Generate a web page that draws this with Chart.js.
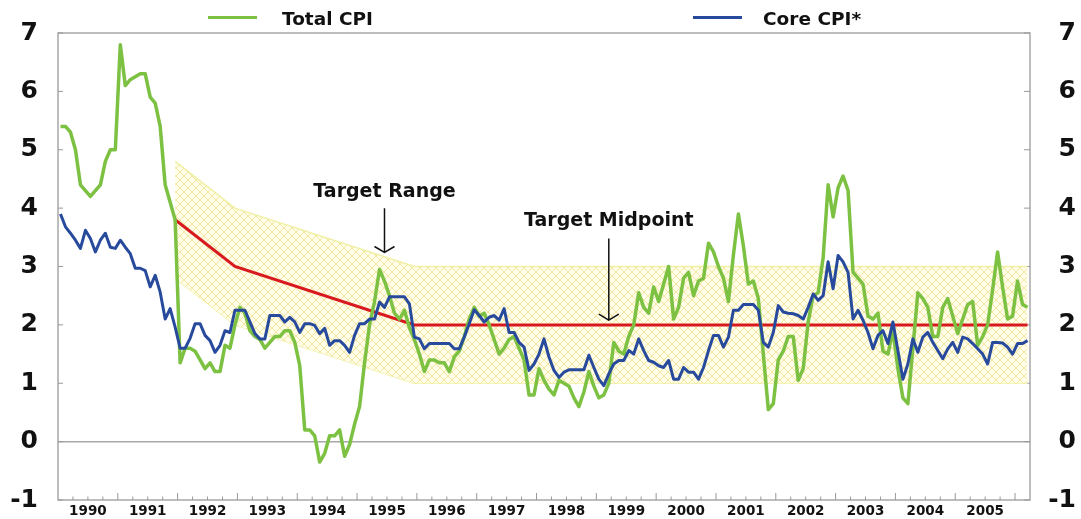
<!DOCTYPE html>
<html>
<head>
<meta charset="utf-8">
<script src="https://cdn.jsdelivr.net/npm/chart.js@4.4.1/dist/chart.umd.min.js"></script>
<style>
  html,body{margin:0;padding:0;background:#fff;}
  #wrap{position:relative;width:1081px;height:519px;}
  .lline{position:absolute;height:3px;width:49px;}
  .ltxt{position:absolute;font-family:"DejaVu Sans";font-weight:bold;font-size:18.5px;line-height:18.5px;color:#111;white-space:nowrap;}
</style>
</head>
<body>
<div id="wrap">
  <canvas id="c" width="1081" height="519"></canvas>
  <div class="lline" style="left:208px;top:16px;background:#7cc142;"></div>
  <div class="ltxt" style="left:282px;top:10px;">Total CPI</div>
  <div class="lline" style="left:693px;top:15.5px;background:#284a9c;"></div>
  <div class="ltxt" style="left:763px;top:10px;">Core CPI*</div>
</div>
<script>
// ---- DATA (monthly, 12-month % change, Jan 1990 – Mar 2006) ----
const startYear = 1990;
const totalCPI = [
  5.4,5.4,5.3,5.0,4.4,4.3,4.2,4.3,4.4,4.8,5.0,5.0,        // 1990
  6.8,6.1,6.2,6.25,6.3,6.3,5.9,5.8,5.4,4.4,4.1,3.8,       // 1991
  1.35,1.6,1.6,1.55,1.4,1.25,1.35,1.2,1.2,1.65,1.6,2.0,   // 1992
  2.3,2.2,1.9,1.8,1.75,1.6,1.7,1.8,1.8,1.9,1.9,1.7,       // 1993
  1.3,0.2,0.2,0.1,-0.35,-0.2,0.1,0.1,0.2,-0.25,-0.05,0.3, // 1994
  0.6,1.35,2.0,2.4,2.95,2.75,2.5,2.2,2.1,2.25,1.95,1.75,  // 1995
  1.5,1.2,1.4,1.4,1.35,1.35,1.2,1.45,1.55,1.8,2.1,2.3,    // 1996
  2.15,2.2,2.0,1.75,1.5,1.6,1.75,1.8,1.6,1.4,0.8,0.8,     // 1997
  1.25,1.05,0.9,0.8,1.05,1.0,0.95,0.75,0.6,0.85,1.2,0.95, // 1998
  0.75,0.8,1.0,1.7,1.55,1.5,1.8,2.0,2.55,2.3,2.2,2.65,    // 1999
  2.4,2.7,3.0,2.1,2.3,2.8,2.9,2.5,2.75,2.8,3.4,3.25,      // 2000
  3.0,2.8,2.4,3.2,3.9,3.35,2.7,2.75,2.45,1.5,0.55,0.65,   // 2001
  1.4,1.55,1.8,1.8,1.05,1.25,2.05,2.5,2.55,3.15,4.4,3.85, // 2002
  4.35,4.55,4.3,2.9,2.8,2.7,2.15,2.1,2.2,1.55,1.5,1.9,    // 2003
  1.25,0.75,0.65,1.6,2.55,2.45,2.3,1.8,1.8,2.3,2.45,2.15, // 2004
  1.85,2.1,2.35,2.4,1.65,1.8,2.0,2.6,3.25,2.65,2.1,2.15,  // 2005
  2.75,2.35,2.3                                           // 2006
];
const coreCPI = [
  3.9,3.68,3.57,3.45,3.31,3.62,3.48,3.25,3.45,3.57,3.33,3.31,  // 1990
  3.45,3.33,3.22,2.97,2.97,2.93,2.65,2.85,2.56,2.1,2.28,1.96,  // 1991
  1.6,1.6,1.77,2.02,2.02,1.82,1.73,1.53,1.65,1.9,1.87,2.25,    // 1992
  2.25,2.25,2.05,1.85,1.76,1.76,2.16,2.16,2.16,2.05,2.13,2.05, // 1993
  1.87,2.02,2.02,1.99,1.85,1.94,1.65,1.73,1.73,1.65,1.53,1.82, // 1994
  2.02,2.02,2.1,2.1,2.39,2.3,2.48,2.48,2.48,2.48,2.36,1.79,    // 1995
  1.76,1.59,1.68,1.68,1.68,1.68,1.68,1.59,1.59,1.79,2.02,2.26, // 1996
  2.16,2.05,2.13,2.16,2.08,2.28,1.87,1.87,1.7,1.62,1.22,1.33,  // 1997
  1.5,1.76,1.45,1.22,1.1,1.19,1.23,1.23,1.23,1.23,1.48,1.27,   // 1998
  1.07,0.96,1.16,1.33,1.39,1.39,1.56,1.5,1.76,1.56,1.39,1.36,  // 1999
  1.3,1.27,1.39,1.07,1.07,1.27,1.19,1.19,1.07,1.27,1.56,1.82,  // 2000
  1.82,1.62,1.79,2.25,2.25,2.35,2.35,2.35,2.25,1.7,1.62,1.87,  // 2001
  2.33,2.22,2.2,2.19,2.16,2.1,2.3,2.53,2.42,2.5,3.08,2.62,     // 2002
  3.19,3.08,2.9,2.1,2.25,2.08,1.87,1.59,1.82,1.9,1.68,2.05,    // 2003
  1.56,1.07,1.33,1.76,1.53,1.79,1.87,1.7,1.56,1.42,1.59,1.7,   // 2004
  1.53,1.79,1.76,1.68,1.59,1.5,1.33,1.7,1.7,1.69,1.62,1.5,     // 2005
  1.68,1.68,1.73                                               // 2006
];
// Target path (dates as "YYYY-MM")
const targetDates = ["1991-12","1992-12","1995-12","2006-03"];
const targetUpper = [4.8, 4.0, 3.0, 3.0];
const targetMid   = [3.8, 3.0, 2.0, 2.0];
const targetLower = [2.8, 2.0, 1.0, 1.0];
const yTicks = [-1,0,1,2,3,4,5,6,7];
const axisStart = 1990, axisEnd = 2006.25;
// annotation anchors in data units
const annotations = [
  {text:"Target Range",    date:"1995-06", textY:4.28, arrowFrom:4.0,  arrowTo:3.24},
  {text:"Target Midpoint", date:"1999-03", textY:3.77, arrowFrom:3.48, arrowTo:2.08}
];

// ---- helpers ----
const monthX = i => startYear + (i + 0.5) / 12;
const dateX = s => { const [y,m] = s.split('-').map(Number); return y + (m - 0.5) / 12; };
const toXY = arr => arr.map((v,i)=>({x:monthX(i), y:v}));
const pathXY = vals => vals.map((v,i)=>({x:dateX(targetDates[i]), y:v}));

const ctx0 = document.getElementById('c').getContext('2d');
function hatchPattern(){
  const s = 8, c = document.createElement('canvas');
  c.width = s; c.height = s;
  const g = c.getContext('2d');
  g.fillStyle = '#fffce8'; g.fillRect(0,0,s,s);
  g.strokeStyle = '#f2e7a2'; g.lineWidth = 1;
  g.beginPath();
  g.moveTo(-1,-1); g.lineTo(s+1,s+1);
  g.moveTo(s+1,-1); g.lineTo(-1,s+1);
  g.stroke();
  return ctx0.createPattern(c,'repeat');
}

const FONT = "DejaVu Sans";
const decor = {
  id:'decor',
  beforeDatasetsDraw(chart){
    const {ctx, chartArea:a, scales:{x,y}} = chart;
    ctx.save();
    ctx.strokeStyle = '#a8a8a8';
    ctx.lineWidth = 1.5;
    ctx.strokeRect(a.left, a.top, a.right - a.left, a.bottom - a.top);
    const y0 = y.getPixelForValue(0);
    ctx.beginPath(); ctx.moveTo(a.left, y0); ctx.lineTo(a.right, y0); ctx.stroke();
    ctx.lineWidth = 1;
    ctx.strokeStyle = '#999';
    ctx.beginPath();
    x.ticks.forEach(t=>{
      const px = x.getPixelForValue(t.value);
      if (px <= a.left + 1 || px >= a.right - 1) return;
      const major = Math.abs(t.value - Math.round(t.value)) < 1e-6;
      const len = major ? 7 : 3.5;
      ctx.moveTo(px, a.bottom); ctx.lineTo(px, a.bottom - len);
    });
    yTicks.forEach(v=>{
      const py = y.getPixelForValue(v);
      ctx.moveTo(a.left, py); ctx.lineTo(a.left + 5, py);
      ctx.moveTo(a.right, py); ctx.lineTo(a.right - 6, py);
    });
    ctx.stroke();
    ctx.restore();
  },
  afterDatasetsDraw(chart){
    const {ctx, scales:{x,y}} = chart;
    ctx.save();
    ctx.fillStyle = '#111';
    ctx.strokeStyle = '#111';
    ctx.lineWidth = 1.5;
    ctx.font = `bold 19px "${FONT}"`;
    ctx.textAlign = 'center';
    ctx.textBaseline = 'middle';
    annotations.forEach(an=>{
      const px = x.getPixelForValue(dateX(an.date));
      ctx.fillText(an.text, px, y.getPixelForValue(an.textY));
      const y1 = y.getPixelForValue(an.arrowFrom), y2 = y.getPixelForValue(an.arrowTo);
      ctx.beginPath();
      ctx.moveTo(px, y1); ctx.lineTo(px, y2);
      ctx.moveTo(px - 10, y2 - 6); ctx.lineTo(px, y2); ctx.lineTo(px + 10, y2 - 6);
      ctx.stroke();
    });
    ctx.restore();
  }
};

const tickFont = {family:FONT, weight:'bold', size:25};
new Chart(ctx0, {
  type:'line',
  data:{
    datasets:[
      {label:'Core CPI*', data:toXY(coreCPI), borderColor:'#284a9c', borderWidth:3, pointRadius:0, tension:0, order:1, borderJoinStyle:'round'},
      {label:'Total CPI', data:toXY(totalCPI), borderColor:'#7cc142', borderWidth:3.5, pointRadius:0, tension:0, order:2, borderJoinStyle:'round'},
      {label:'Target Midpoint', data:pathXY(targetMid), borderColor:'#d81a1e', borderWidth:3, pointRadius:0, tension:0, order:3},
      {label:'Upper', data:pathXY(targetUpper), borderColor:'#eff0a4', borderWidth:1.5, pointRadius:0, tension:0, order:4, fill:'+1', backgroundColor:hatchPattern()},
      {label:'Lower', data:pathXY(targetLower), borderColor:'#eff0a4', borderWidth:1.5, pointRadius:0, tension:0, order:5}
    ]
  },
  options:{
    responsive:false,
    animation:false,
    events:[],
    layout:{padding:{top:33, right:5, left:0, bottom:0}},
    plugins:{legend:{display:false}, tooltip:{enabled:false}},
    scales:{
      x:{
        type:'linear', min:axisStart, max:axisEnd,
        grid:{display:false, drawTicks:true, tickLength:3}, border:{display:false},
        ticks:{
          stepSize:0.25, autoSkip:false, maxRotation:0, minRotation:0,
          font:{family:FONT, weight:'bold', size:13.5}, color:'#111', padding:0,
          callback:(v)=>{ const f = Math.round((v - Math.floor(v))*4); return f===2 ? String(Math.floor(v)) : ''; }
        },
        afterFit(s){ s.height = 19; }
      },
      y:{
        type:'linear', position:'left', min:-1, max:7,
        grid:{display:false, drawTicks:true, tickLength:20}, border:{display:false},
        ticks:{stepSize:1, font:tickFont, color:'#111', crossAlign:'near', padding:0},
        afterFit(s){ s.width = 58; }
      },
      y2:{
        type:'linear', position:'right', min:-1, max:7,
        grid:{display:false, drawTicks:false}, border:{display:false},
        ticks:{stepSize:1, font:tickFont, color:'#111', crossAlign:'far', padding:0},
        afterFit(s){ s.width = 46; }
      }
    }
  },
  plugins:[decor]
});
</script>
</body>
</html>
